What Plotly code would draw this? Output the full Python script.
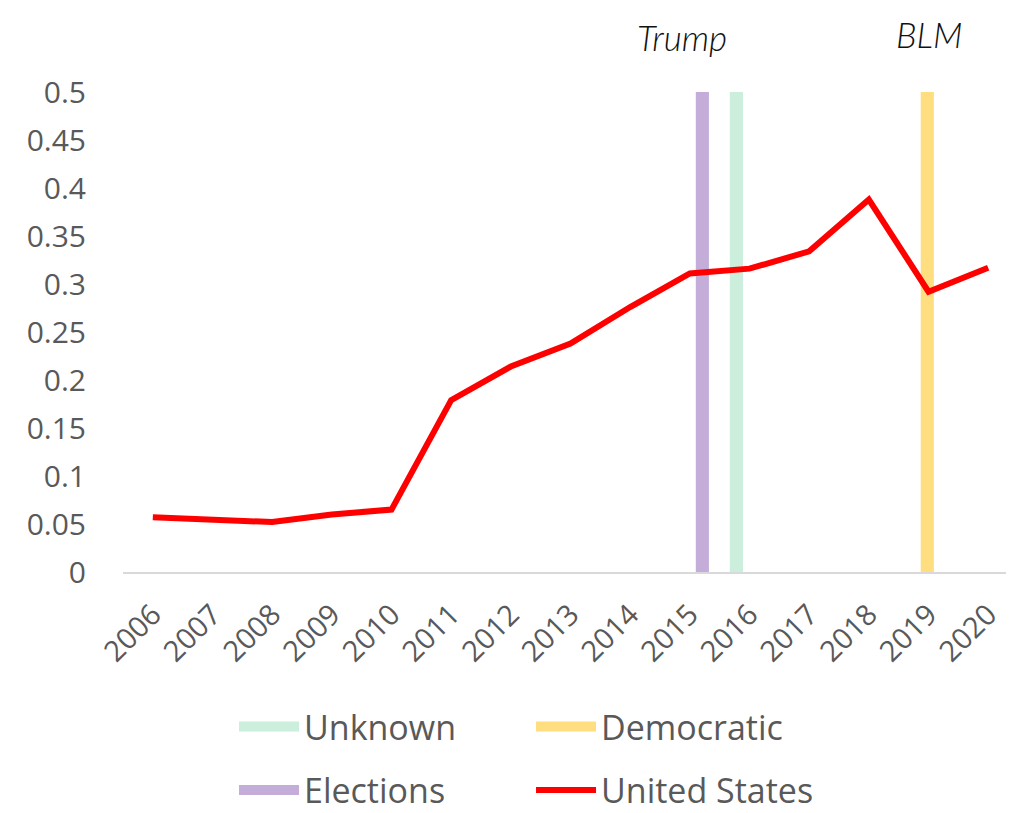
import plotly.graph_objects as go

years = list(range(2006, 2021))
us_values = [0.057, 0.054, 0.052, 0.060, 0.065, 0.179, 0.214, 0.238, 0.276,
             0.311, 0.316, 0.334, 0.388, 0.292, 0.317]

# event bars (position on year axis, height)
elections_x = [2015.21]
elections_y = [0.5]
unknown_x = [2015.78]
unknown_y = [0.5]
democratic_x = [2018.98]
democratic_y = [0.5]

event_labels = ["Trump", "BLM"]
event_label_x = [2014.87, 2019.01]
event_label_y = [1.115, 1.12]

y_ticks = [0, 0.05, 0.1, 0.15, 0.2, 0.25, 0.3, 0.35, 0.4, 0.45, 0.5]
y_ticktext = ["0", "0.05", "0.1", "0.15", "0.2", "0.25", "0.3", "0.35", "0.4", "0.45", "0.5"]

C_UNK = "#CCEEDC"
C_DEM = "#FFDE80"
C_ELE = "#C5ADDA"
C_US = "#FF0000"

BAR_W = 0.22
FONT = "Open Sans"

fig = go.Figure()
fig.add_trace(go.Bar(x=unknown_x, y=unknown_y, width=BAR_W, marker=dict(color=C_UNK, line=dict(width=0)),
                     showlegend=False, hoverinfo="skip"))
fig.add_trace(go.Bar(x=democratic_x, y=democratic_y, width=BAR_W, marker=dict(color=C_DEM, line=dict(width=0)),
                     showlegend=False, hoverinfo="skip"))
fig.add_trace(go.Bar(x=elections_x, y=elections_y, width=BAR_W, marker=dict(color=C_ELE, line=dict(width=0)),
                     showlegend=False, hoverinfo="skip"))
fig.add_trace(go.Scatter(x=years, y=us_values, mode="lines", line=dict(color=C_US, width=6),
                         showlegend=False))

# legend entries
fig.add_trace(go.Scatter(x=[None], y=[None], mode="lines", name="Unknown",
                         line=dict(color=C_UNK, width=22), legend="legend"))
fig.add_trace(go.Scatter(x=[None], y=[None], mode="lines", name="Democratic",
                         line=dict(color=C_DEM, width=22), legend="legend"))
fig.add_trace(go.Scatter(x=[None], y=[None], mode="lines", name="Elections",
                         line=dict(color=C_ELE, width=22), legend="legend2"))
fig.add_trace(go.Scatter(x=[None], y=[None], mode="lines", name="United States",
                         line=dict(color=C_US, width=6), legend="legend2"))

for txt, lx, ly in zip(event_labels, event_label_x, event_label_y):
    fig.add_annotation(text=txt, x=lx, y=ly, xref="x", yref="paper", showarrow=False,
                       font=dict(family="Lato", size=35, color="#111111", style="italic", weight=300),
                       xanchor="center", yanchor="middle", borderpad=0)

legend_common = dict(orientation="h", xanchor="left", yanchor="middle",
                     xref="container", yref="container",
                     font=dict(family=FONT, size=34, color="#595959"),
                     entrywidth=222, entrywidthmode="pixels", itemwidth=60,
                     bgcolor="rgba(0,0,0,0)", traceorder="normal")

fig.update_layout(
    width=1014, height=813,
    margin=dict(l=115, r=4, t=84, b=249, autoexpand=False),
    plot_bgcolor="white", paper_bgcolor="white",
    barmode="overlay",
    font=dict(family=FONT, color="#595959"),
    xaxis=dict(range=[2005.5, 2020.5], tickmode="array", tickvals=years,
               ticktext=[str(y) for y in years], tickangle=-45,
               tickfont=dict(family=FONT, size=29, color="#595959"),
               showgrid=False, zeroline=False, showline=True, linecolor="#D9D9D9",
               linewidth=2, ticks="", ticklabelstandoff=12),
    yaxis=dict(range=[0, 0.5], tickmode="array", tickvals=y_ticks, ticktext=y_ticktext,
               tickfont=dict(family=FONT, size=30, color="#595959"),
               showgrid=False, zeroline=False, showline=False, ticks="",
               ticklabelstandoff=36),
    legend=dict(x=0.2229, y=0.1156, **legend_common),
    legend2=dict(x=0.2229, y=0.0375, **legend_common),
)

fig.write_html("out.html")
